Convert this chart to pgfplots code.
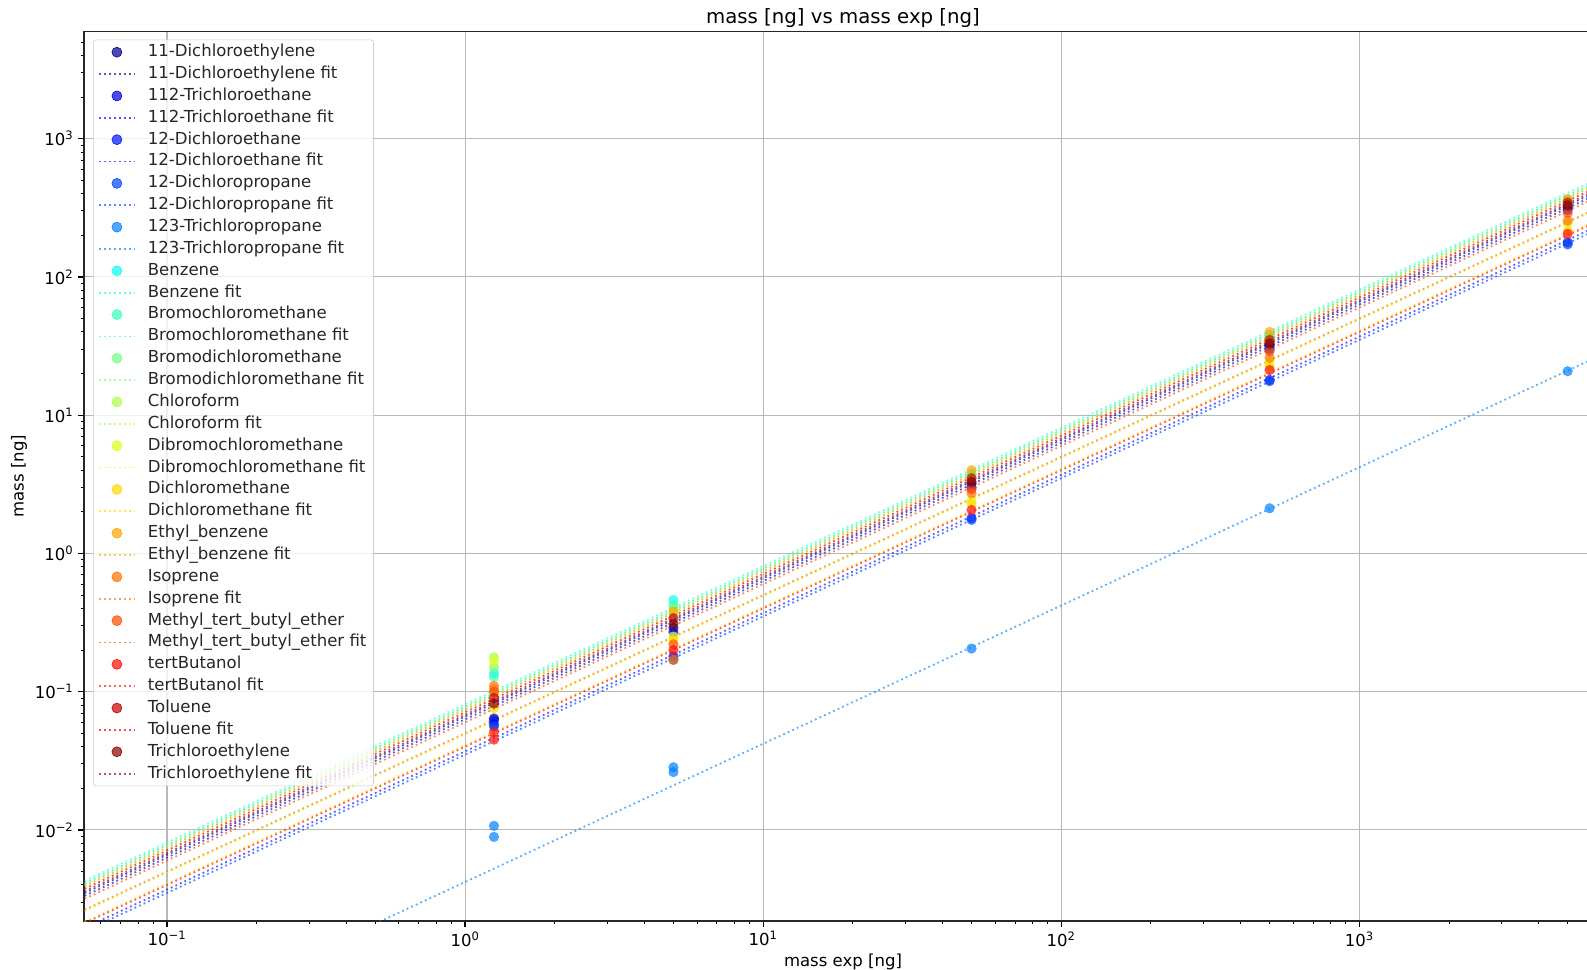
\documentclass[border=0pt]{standalone}
\usepackage{fontspec}
\setmainfont{DejaVu Sans}
\usepackage{pgfplots}
\pgfplotsset{compat=1.18}

% jet-like colour sequence, one per compound
\definecolor{c01}{rgb}{0.00,0.00,0.55}
\definecolor{c02}{rgb}{0.00,0.00,0.85}
\definecolor{c03}{rgb}{0.00,0.06,1.00}
\definecolor{c04}{rgb}{0.00,0.27,1.00}
\definecolor{c05}{rgb}{0.00,0.50,1.00}
\definecolor{c06}{rgb}{0.05,1.00,0.93}
\definecolor{c07}{rgb}{0.22,1.00,0.72}
\definecolor{c08}{rgb}{0.45,1.00,0.50}
\definecolor{c09}{rgb}{0.68,1.00,0.28}
\definecolor{c10}{rgb}{0.88,1.00,0.08}
\definecolor{c11}{rgb}{1.00,0.85,0.00}
\definecolor{c12}{rgb}{1.00,0.65,0.00}
\definecolor{c13}{rgb}{1.00,0.45,0.00}
\definecolor{c14}{rgb}{1.00,0.30,0.00}
\definecolor{c15}{rgb}{1.00,0.05,0.00}
\definecolor{c16}{rgb}{0.78,0.00,0.00}
\definecolor{c17}{rgb}{0.55,0.00,0.00}
\definecolor{gridgray}{HTML}{B8B8B8}

\pgfplotsset{
  pts/.style={only marks, mark=*, mark size=3.7pt,
    mark options={#1, fill opacity=0.7, draw opacity=0},
    legend image code/.code={\path (0pt,0pt) (25.5pt,0pt);
      \fill[#1, fill opacity=0.7] (12.75pt,0pt) circle[radius=3.6pt];}},
  fit/.style={no marks, draw=#1, draw opacity=0.65, line width=1.3pt,
    dash pattern=on 1.3pt off 2.3pt,
    legend image code/.code={\path (0pt,0pt) (25.5pt,0pt);
      \draw[#1, draw opacity=0.65, line width=1.3pt, dash pattern=on 1.3pt off 2.3pt]
        (0pt,0pt) -- (25.5pt,0pt);}},
}

% measured points and fitted line for one compound
\newcommand{\compound}[4]{%
  \addplot[pts=#1] coordinates {#3};
  \addlegendentry{#2}
  \addplot[fit=#1] coordinates {#4};
  \addlegendentry{#2 fit}
}

\begin{document}
\begin{tikzpicture}
\begin{axis}[
  xmode=log, ymode=log,
  scale only axis, width=1092.96pt, height=640.5pt,
  xmin=0.05267, xmax=6519, ymin=0.002193, ymax=5970,
  xtick={0.1,1,10,100,1000},
  xticklabels={10\textsuperscript{−1},10\textsuperscript{0},10\textsuperscript{1},10\textsuperscript{2},10\textsuperscript{3}},
  ytick={0.01,0.1,1,10,100,1000},
  yticklabels={10\textsuperscript{−2},10\textsuperscript{−1},10\textsuperscript{0},10\textsuperscript{1},10\textsuperscript{2},10\textsuperscript{3}},
  minor xtick={0.06,0.07,0.08,0.09,0.2,0.3,0.4,0.5,0.6,0.7,0.8,0.9,2,3,4,5,6,7,8,9,20,30,40,50,60,70,80,90,200,300,400,500,600,700,800,900,2000,3000,4000,5000,6000},
  minor ytick={0.003,0.004,0.005,0.006,0.007,0.008,0.009,0.02,0.03,0.04,0.05,0.06,0.07,0.08,0.09,0.2,0.3,0.4,0.5,0.6,0.7,0.8,0.9,2,3,4,5,6,7,8,9,20,30,40,50,60,70,80,90,200,300,400,500,600,700,800,900,2000,3000,4000,5000},
  tick align=outside, major tick length=4pt, minor tick length=2.4pt,
  every tick/.style={black, line width=0.9pt},
  minor tick style={line width=0.7pt},
  xtick pos=bottom, ytick pos=left,
  grid=major, major grid style={gridgray, line width=0.8pt},
  axis line style={black!85, line width=0.9pt},
  tick label style={font=\fontsize{11.9}{14}\selectfont},
  title={mass [ng] vs mass exp [ng]},
  title style={font=\fontsize{14.2}{17}\selectfont, at={(axis description cs:0.5,1.01717)}, anchor=center, yshift=-7.5pt},
  xlabel={mass exp [ng]},
  xlabel style={font=\fontsize{11.9}{14}\selectfont, at={(axis description cs:0.5,-0.0464)}, anchor=center},
  ylabel={mass [ng]},
  ylabel style={font=\fontsize{11.9}{14}\selectfont, at={(axis description cs:-0.0428,0.5)}, anchor=center},
  legend cell align=left,
  legend style={at={(axis description cs:0,1)}, anchor=north west, xshift=6.5pt, yshift=-5.9pt,
    draw=black!20, fill=white, fill opacity=0.8, draw opacity=1, text opacity=1,
    rounded corners=2pt, inner xsep=3.6pt, inner ysep=1pt, row sep=0pt, column sep=7.4pt,
    font=\fontsize{11.9}{14}\selectfont, text=black!85,
    nodes={text height=9pt, text depth=2.6pt, inner ysep=2.07pt, inner xsep=1.5pt}},
]
\compound{c01}{11-Dichloroethylene}
  {(1.25,0.064) (5,0.29) (50,3.2) (500,32) (5000,320)}
  {(0.04,0.00264) (8000,528)}
\compound{c02}{112-Trichloroethane}
  {(1.25,0.058) (5,0.27) (50,3.0) (500,30) (5000,305)}
  {(0.04,0.00252) (8000,504)}
\compound{c03}{12-Dichloroethane}
  {(1.25,0.062) (5,0.18) (50,1.80) (500,18.0) (5000,178)}
  {(0.04,0.00148) (8000,296)}
\compound{c04}{12-Dichloropropane}
  {(1.25,0.056) (5,0.17) (50,1.75) (500,17.6) (5000,172)}
  {(0.04,0.0014) (8000,280)}
\compound{c05}{123-Trichloropropane}
  {(1.25,0.0107) (1.25,0.0089) (5,0.0284) (5,0.0262) (50,0.205) (500,2.12) (5000,20.8)}
  {(0.04,0.000168) (8000,33.6)}
\compound{c06}{Benzene}
  {(1.25,0.136) (5,0.46) (50,3.7) (500,37) (5000,355)}
  {(0.04,0.00312) (8000,624)}
\compound{c07}{Bromochloromethane}
  {(1.25,0.128) (5,0.42) (50,3.8) (500,38) (5000,360)}
  {(0.04,0.00324) (8000,648)}
\compound{c08}{Bromodichloromethane}
  {(1.25,0.150) (5,0.40) (50,3.6) (500,36) (5000,350)}
  {(0.04,0.00308) (8000,616)}
\compound{c09}{Chloroform}
  {(1.25,0.178) (5,0.37) (50,3.5) (500,35) (5000,345)}
  {(0.04,0.003) (8000,600)}
\compound{c10}{Dibromochloromethane}
  {(1.25,0.165) (5,0.25) (50,2.4) (500,24.4) (5000,245)}
  {(0.04,0.00196) (8000,392)}
\compound{c11}{Dichloromethane}
  {(1.25,0.076) (5,0.237) (50,2.3) (500,22.5) (5000,215)}
  {(0.04,0.00164) (8000,328)}
\compound{c12}{Ethyl\_benzene}
  {(1.25,0.104) (5,0.38) (50,4.0) (500,40) (5000,365)}
  {(0.04,0.00296) (8000,592)}
\compound{c13}{Isoprene}
  {(1.25,0.110) (5,0.17) (50,2.72) (500,26) (5000,255)}
  {(0.04,0.002) (8000,400)}
\compound{c14}{Methyl\_tert\_butyl\_ether}
  {(1.25,0.100) (5,0.22) (50,2.9) (500,29) (5000,290)}
  {(0.04,0.0024) (8000,480)}
\compound{c15}{tertButanol}
  {(1.25,0.051) (1.25,0.045) (5,0.20) (50,2.06) (500,21.2) (5000,205)}
  {(0.04,0.0016) (8000,320)}
\compound{c16}{Toluene}
  {(1.25,0.090) (5,0.34) (50,3.5) (500,35) (5000,345)}
  {(0.04,0.00284) (8000,568)}
\compound{c17}{Trichloroethylene}
  {(1.25,0.082) (5,0.31) (50,3.3) (500,33) (5000,330)}
  {(0.04,0.00272) (8000,544)}
\end{axis}
\pgfresetboundingbox
\path[use as bounding box] ([shift={(-60.48pt,-35.28pt)}]current axis.south west) rectangle ++(1142.64pt,698.4pt);
\end{tikzpicture}
\end{document}
